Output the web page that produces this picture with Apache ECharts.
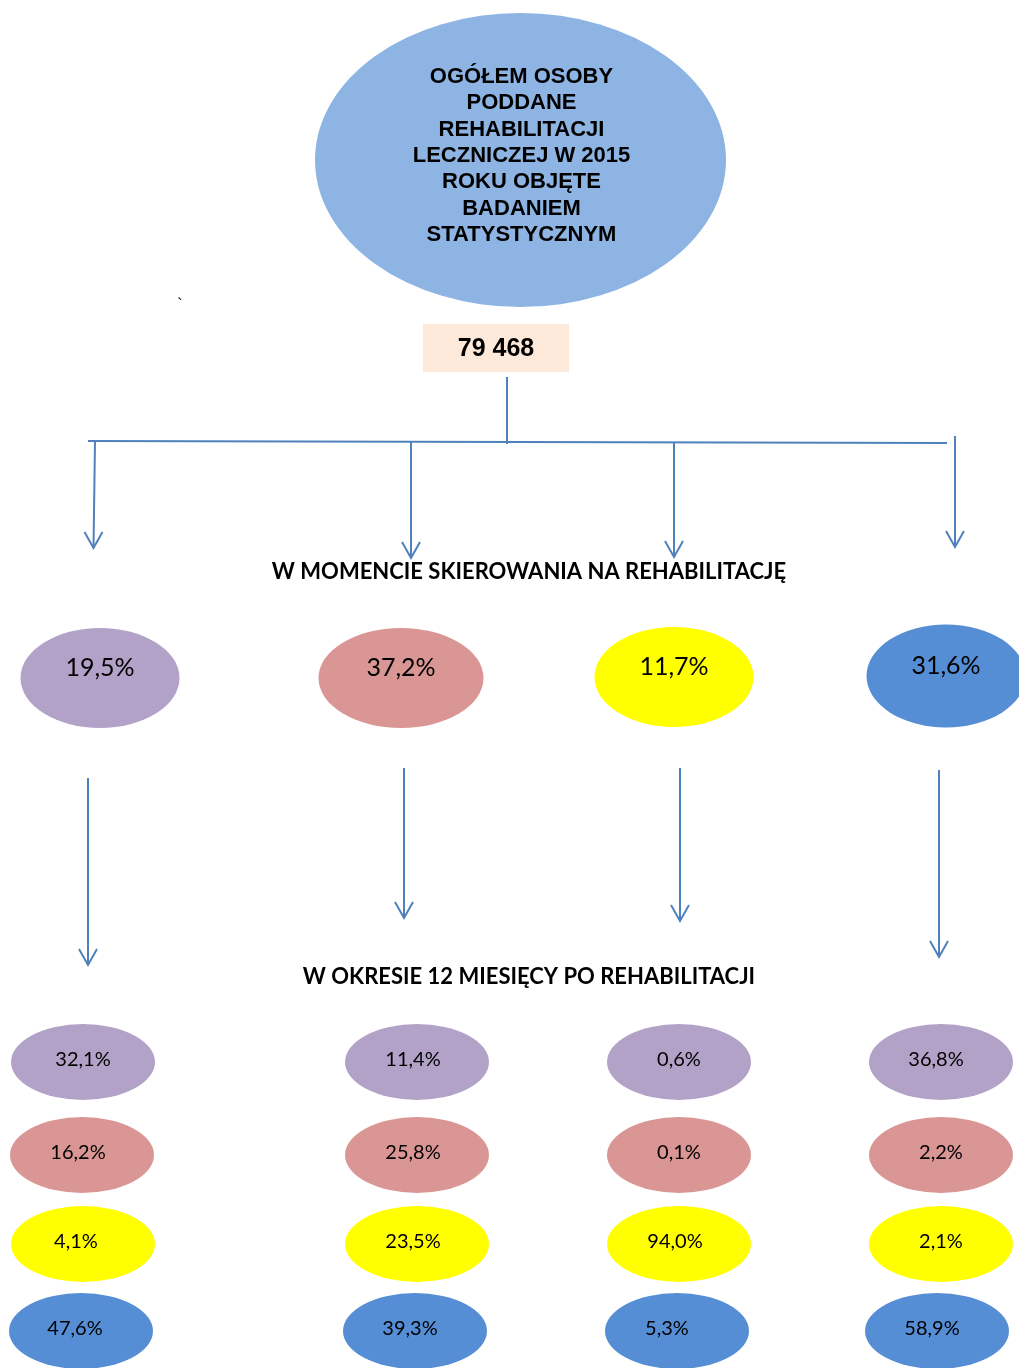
<!DOCTYPE html>
<html>
<head>
<meta charset="utf-8">
<script src="https://cdn.jsdelivr.net/npm/echarts@6/dist/echarts.min.js"></script>
<style>
  html, body { margin: 0; padding: 0; background: #fff; }
  #main { width: 1019px; height: 1368px; }
</style>
</head>
<body>
<div id="main"></div>
<script>
// dane
var rootTitle = ['OGÓŁEM OSOBY', 'PODDANE', 'REHABILITACJI', 'LECZNICZEJ W 2015', 'ROKU OBJĘTE', 'BADANIEM', 'STATYSTYCZNYM'];
var total = '79 468';
var heading1 = 'W MOMENCIE SKIEROWANIA NA REHABILITACJĘ';
var heading2 = 'W OKRESIE 12 MIESIĘCY PO REHABILITACJI';
var atReferral = [19.5, 37.2, 11.7, 31.6];
// kolumny: grupa przy skierowaniu, wiersze: stan po 12 miesiącach
var after12m_1 = [32.1, 16.2, 4.1, 47.6];
var after12m_2 = [11.4, 25.8, 23.5, 39.3];
var after12m_3 = [0.6, 0.1, 94.0, 5.3];
var after12m_4 = [36.8, 2.2, 2.1, 58.9];
var groupColors = ['#B3A2C7', '#D99694', '#FFFF00', '#558ED5'];

// układ (piksele)
var row1X = [100, 401, 674, 946];
var row1Y = [678, 678, 677, 676];
var row2X = [[83, 82, 83, 81], [417, 417, 417, 415], [679, 679, 679, 677], [941, 941, 941, 937]];
var row2Y = [1062, 1155, 1244, 1331];
// przesunięcie etykiet w poziomie (jak w oryginale)
var row2LabelDx = [[0, -4, -7, -6], [-4, -4, -4, -5], [0, 0, -4, -10], [-5, 0, 0, -5]];
var lineColor = '#4F81BD';

var ellipse = 'path://M0,1 A1,1 0 1,1 2,1 A1,1 0 1,1 0,1 Z';

function pct(v) {
	return v.toFixed(1).replace('.', ',') + '%';
}

var chart = echarts.init(document.getElementById('main'), null, { renderer: 'canvas' });

// górny owal
var topData = [{
	value: [520.5, 160],
	symbolSize: [411, 294],
	itemStyle: { color: '#8EB4E3', opacity: 1 },
	label: {
		show: true,
		position: 'inside',
		offset: [1, -4],
		formatter: rootTitle.join('\n'),
		fontFamily: 'Liberation Sans',
		fontWeight: 'bold',
		fontSize: 22,
		lineHeight: 26.4,
		color: '#000',
		textBorderWidth: 0
	}
}];

// pierwszy rząd
var row1Data = atReferral.map(function (v, i) {
	return {
		value: [row1X[i], row1Y[i]],
		symbolSize: [i == 1 ? 165 : 159, i == 3 ? 103 : 100],
		itemStyle: { color: groupColors[i], opacity: 1 },
		label: { formatter: pct(v) }
	};
});

// drugi rząd
var after = [after12m_1, after12m_2, after12m_3, after12m_4];
var row2Data = [];
after.forEach(function (col, c) {
	col.forEach(function (v, r) {
		row2Data.push({
			value: [row2X[c][r], row2Y[r]],
			symbolSize: [144, 76],
			itemStyle: { color: groupColors[r], opacity: 1 },
			label: { formatter: pct(v), offset: [row2LabelDx[c][r], -2] }
		});
	});
});

// linie i strzałki: x1, y1, x2, y2, grot
var connectors = [
	[507, 377, 507, 444, 0],
	[88, 441, 947, 443, 0],
	[95, 441, 93.5, 548, 1],
	[411, 442, 411, 558, 1],
	[674, 443, 674, 557, 1],
	[955, 436, 955, 547, 1],
	[88, 778, 88, 965, 1],
	[404, 768, 404, 918, 1],
	[680, 768, 680, 921, 1],
	[939, 770, 939, 957, 1]
];

function renderArrow(params, api) {
	var p1 = api.coord([api.value(0), api.value(1)]);
	var p2 = api.coord([api.value(2), api.value(3)]);
	var children = [{
		type: 'line',
		shape: { x1: p1[0], y1: p1[1], x2: p2[0], y2: p2[1] },
		style: { stroke: lineColor, lineWidth: 2 }
	}];
	if (api.value(4)) {
		children.push({
			type: 'polyline',
			shape: { points: [[p2[0] - 9, p2[1] - 16], [p2[0], p2[1]], [p2[0] + 9, p2[1] - 16]] },
			style: { stroke: lineColor, lineWidth: 2, fill: null }
		});
	}
	return { type: 'group', children: children };
}

var labelBase = { show: true, position: 'inside', color: '#000', textBorderWidth: 0, fontFamily: 'Lato' };

var option = {
	backgroundColor: '#fff',
	animation: false,
	grid: { left: 0, right: 0, top: 0, bottom: 0 },
	xAxis: { type: 'value', min: 0, max: 1019, show: false },
	yAxis: { type: 'value', min: 0, max: 1368, inverse: true, show: false },
	graphic: [
		{
			type: 'rect', left: 423, top: 324, z: 5,
			shape: { width: 146, height: 48 },
			style: { fill: '#FDE9D9' }
		},
		{
			type: 'text', x: 496, y: 349, z: 6,
			style: { text: total, font: 'bold 25px "Liberation Sans"', fill: '#000', align: 'center', verticalAlign: 'middle' }
		},
		{
			type: 'text', x: 180, y: 306, z: 6,
			style: { text: '`', font: '16px "Liberation Sans"', fill: '#000', align: 'center', verticalAlign: 'middle' }
		},
		{
			type: 'text', x: 529, y: 572, z: 6,
			style: { text: heading1, font: 'bold 22px Lato', fill: '#000', align: 'center', verticalAlign: 'middle' }
		},
		{
			type: 'text', x: 529, y: 977, z: 6,
			style: { text: heading2, font: 'bold 22px Lato', fill: '#000', align: 'center', verticalAlign: 'middle' }
		}
	],
	series: [
		{
			type: 'custom',
			renderItem: renderArrow,
			encode: { x: [0, 2], y: [1, 3] },
			clip: false,
			silent: true,
			data: connectors
		},
		{
			type: 'scatter',
			symbol: ellipse,
			clip: false,
			silent: true,
			data: topData
		},
		{
			type: 'scatter',
			symbol: ellipse,
			clip: false,
			silent: true,
			label: Object.assign({ offset: [0, -10], fontSize: 25 }, labelBase),
			data: row1Data
		},
		{
			type: 'scatter',
			symbol: ellipse,
			clip: false,
			silent: true,
			label: Object.assign({ fontSize: 20 }, labelBase),
			data: row2Data
		}
	]
};

chart.setOption(option);
</script>
</body>
</html>
